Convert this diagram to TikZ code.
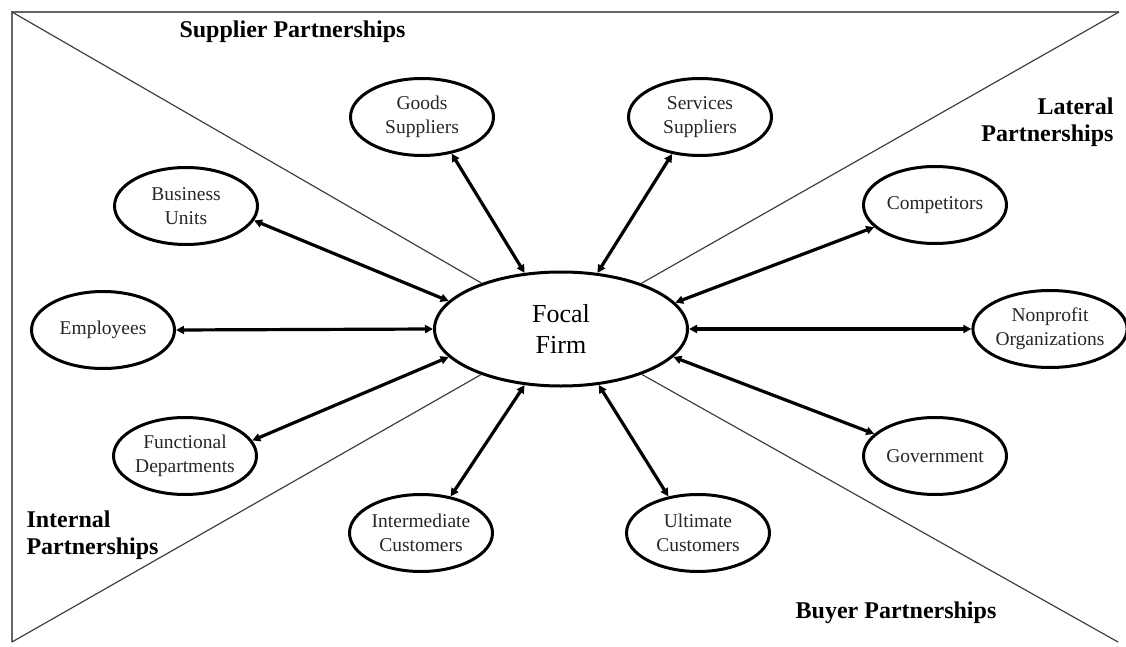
\documentclass[tikz,border=0pt]{standalone}
\usepackage{fontspec}
\setmainfont{Liberation Serif}
\usetikzlibrary{shapes.geometric, arrows.meta}

\begin{document}
\begin{tikzpicture}[x=1pt, y=-1pt,
    party/.style={ellipse, draw, line width=3pt, minimum width=143pt,
        minimum height=77pt, inner sep=0pt, align=center, text=black!85,
        font=\fontsize{19.5}{24}\selectfont},
    link/.style={{Triangle[length=8pt,width=8pt]}-{Triangle[length=8pt,width=8pt]},
        line width=3.2pt},
    zone/.style={font=\bfseries\fontsize{24}{27}\selectfont},
    diag/.style={line width=1.2pt, black!75}]
    \useasboundingbox (0,0) rectangle (1126,647);

    % Углы рамки
    \coordinate (tl) at (12,12);
    \coordinate (tr) at (1119,12);
    \coordinate (bl) at (12,642);
    \coordinate (br) at (1118,642);
    \draw[line width=2pt, black!60] (bl) -- (tl) -- (tr);

    % Центр
    \node[ellipse, draw, line width=3pt, minimum width=253pt, minimum height=114pt,
        inner sep=0pt, align=center, font=\fontsize{26}{31}\selectfont]
        (focal) at (561,329) {Focal\\Firm};

    % Диагонали
    \draw[diag] (tl) -- (focal);
    \draw[diag] (tr) -- (focal);
    \draw[diag] (bl) -- (focal);
    \draw[diag] (br) -- (focal);

    % Партнёры
    \node[party] (goods) at (422,117) {Goods\\Suppliers};
    \node[party] (services) at (700,117) {Services\\Suppliers};
    \node[party] (business) at (186,206) {Business\\Units};
    \node[party] (competitors) at (935,205) {Competitors};
    \node[party] (employees) at (103,330) {Employees};
    \node[party] (nonprofit) at (1050,329) {Nonprofit\\Organizations};
    \node[party] (functional) at (185,456) {Functional\\Departments};
    \node[party] (government) at (935,456) {Government};
    \node[party] (intermediate) at (421,533) {Intermediate\\Customers};
    \node[party] (ultimate) at (698,533) {Ultimate\\Customers};

    % Связи
    \draw[link] (goods.-51) -- (focal.123);
    \draw[link] (services.-127) -- (focal.57);
    \draw[link] (business.-12) -- (focal.166);
    \draw[link] (competitors.-160) -- (focal.13);
    \draw[link] (employees.east) -- (focal.west);
    \draw[link] (nonprofit.west) -- (focal.east);
    \draw[link] (functional.13) -- (focal.-166);
    \draw[link] (government.160) -- (focal.-14);
    \draw[link] (intermediate.51) -- (focal.-123);
    \draw[link] (ultimate.129) -- (focal.-56);

    % Подписи секторов
    \node[zone, anchor=west] (supplier) at (176,32) {Supplier Partnerships};
    \node[zone, anchor=east, align=right] (lateral) at (1117,122) {Lateral\\Partnerships};
    \node[zone, anchor=west, align=left] (internal) at (23,535) {Internal\\Partnerships};
    \node[zone] (buyer) at (896,613) {Buyer Partnerships};
\end{tikzpicture}
\end{document}
